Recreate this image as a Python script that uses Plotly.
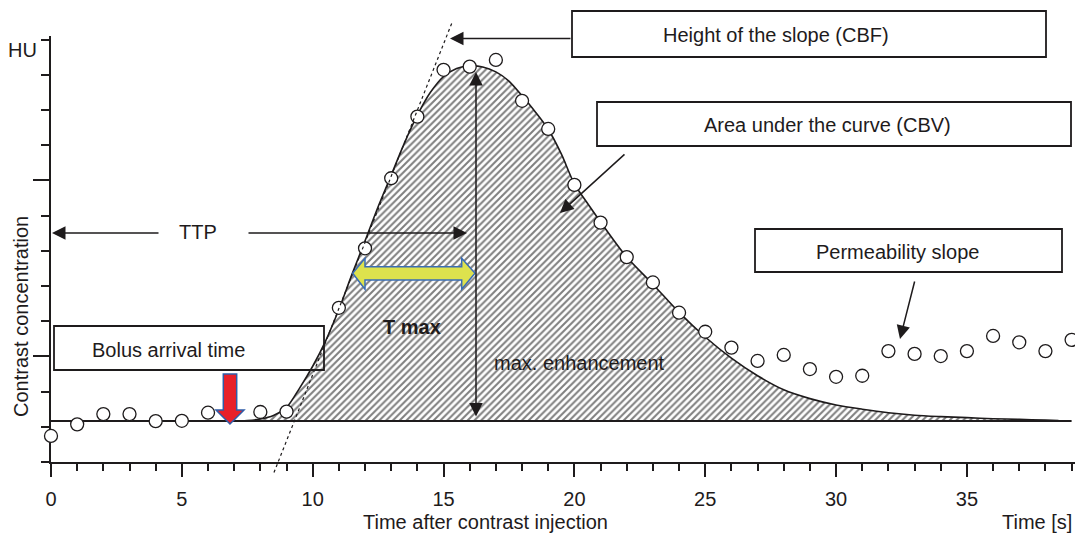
import plotly.graph_objects as go

# ---------------- data ----------------
time_s = [0, 1, 2, 3, 4, 5, 6, 8, 9, 11, 12, 13, 14, 15, 16, 17, 18, 19, 20,
          21, 22, 23, 24, 25, 26, 27, 28, 29, 30, 31, 32, 33, 34, 35, 36, 37, 38, 39]
measured_hu = [0.74, 1.07, 1.36, 1.36, 1.16, 1.17, 1.40, 1.42, 1.43, 4.38, 6.07, 8.06,
               9.81, 11.14, 11.23, 11.42, 10.26, 9.46, 7.87, 6.80, 5.82, 5.10, 4.24,
               3.70, 3.25, 2.87, 3.04, 2.64, 2.42, 2.45, 3.15, 3.07, 3.01, 3.15, 3.58,
               3.40, 3.15, 3.47]

fit_t = [6.8, 7.5, 8, 8.5, 9, 9.5, 10, 10.5, 11, 11.5, 12, 12.5, 13, 13.5, 14, 14.5,
         15, 15.5, 16, 16.5, 17, 17.5, 18, 18.5, 19, 19.5, 20, 20.5, 21, 22, 23, 24,
         25, 26, 27, 28, 29, 30, 31, 32, 33, 34, 35, 36, 37, 38, 38.5]
fit_hu = [1.165, 1.18, 1.22, 1.32, 1.55, 2.1, 2.72, 3.45, 4.33, 5.33, 6.28, 7.25, 8.15,
          9.05, 9.85, 10.5, 10.95, 11.18, 11.25, 11.22, 11.08, 10.82, 10.4, 9.95,
          9.45, 8.75, 7.9, 7.35, 6.82, 5.82, 5.05, 4.25, 3.55, 2.95, 2.45, 2.05, 1.8,
          1.62, 1.5, 1.4, 1.33, 1.29, 1.26, 1.23, 1.21, 1.19, 1.18]

baseline_t = [0, 39]
baseline_hu = [1.165, 1.165]

tangent_t = [8.52, 15.35]
tangent_hu = [-0.3, 12.53]

x_ticks = [0, 5, 10, 15, 20, 25, 30, 35]
x_tick_labels = ["0", "5", "10", "15", "20", "25", "30", "35"]

# ---------------- geometry ----------------
FW, FH = 1075, 534
ML, MR, MT, MB = 51, 0, 36, 72
PW, PH = FW - ML - MR, FH - MT - MB
X0, X1 = 0, 39.13
Y0, Y1 = 0, 12.1

INK = "#1e1b1c"
FONT = "Liberation Sans, Arial, Helvetica, sans-serif"


def fx(px):
    return (px - ML) / PW


def fy(py):
    return (FH - MB - py) / PH


def dx(t):
    return (t - X0) / (X1 - X0)


def dy(v):
    return (v - Y0) / (Y1 - Y0)


fig = go.Figure()

# hatched area under the fitted curve
fig.add_trace(go.Scatter(
    x=fit_t, y=fit_hu, mode="lines", line=dict(color=INK, width=1.6, shape="spline", smoothing=0.8),
    fill="toself", fillcolor="white",
    fillpattern=dict(shape="/", fgcolor="#000000", bgcolor="white", size=4.8, solidity=0.42),
    hoverinfo="skip"))

# baseline
fig.add_trace(go.Scatter(x=baseline_t, y=baseline_hu, mode="lines",
                         line=dict(color=INK, width=2), hoverinfo="skip"))

# measured points
fig.add_trace(go.Scatter(x=time_s, y=measured_hu, mode="markers", cliponaxis=False,
                         marker=dict(size=13, color="white", line=dict(color=INK, width=1.3))))

shapes = []
# dotted tangent (slope) line, not clipped to the plot area
shapes.append(dict(type="line", xref="paper", yref="paper",
                   x0=dx(tangent_t[0]), y0=dy(tangent_hu[0]),
                   x1=dx(tangent_t[1]), y1=dy(tangent_hu[1]),
                   line=dict(color=INK, width=1.2, dash="dot")))

# label boxes (pixel positions)
boxes = [(572, 11, 1046, 57), (597, 102, 1071, 146), (755, 229, 1062, 272), (54, 326, 324, 370)]
for (a, b, c, d) in boxes:
    shapes.append(dict(type="rect", xref="paper", yref="paper",
                       x0=fx(a), x1=fx(c), y0=fy(d), y1=fy(b),
                       line=dict(color=INK, width=1.8), fillcolor="rgba(0,0,0,0)"))


def poly(points):
    return "M " + " L ".join(f"{fx(a):.5f},{fy(b):.5f}" for a, b in points) + " Z"


# red block arrow (bolus arrival)
red = [(223.3, 374), (236.7, 374), (236.7, 410), (244, 410), (230, 424),
       (216, 410), (223.3, 410)]
shapes.append(dict(type="path", xref="paper", yref="paper", path=poly(red),
                   fillcolor="#e8202a", line=dict(color="#2f5ca8", width=1.5)))

# yellow double block arrow (T max)
yel = [(352.7, 273.3), (365, 258.3), (365, 266.7), (461.7, 266.7), (461.7, 258.3),
       (475, 273.3), (461.7, 289.3), (461.7, 280), (365, 280), (365, 289.3)]
shapes.append(dict(type="path", xref="paper", yref="paper", path=poly(yel),
                   fillcolor="#dde24d", line=dict(color="#3a6db5", width=1.5)))

ann = []


def text(cx, cy, s, size=20, bold=False, angle=0, xanchor="center"):
    ann.append(dict(x=fx(cx), y=fy(cy), xref="paper", yref="paper", text=f"<b>{s}</b>" if bold else s,
                    showarrow=False, xanchor=xanchor, yanchor="middle", textangle=angle,
                    font=dict(family=FONT, size=size, color=INK)))


def arrow(hx, hy, tx, ty, both=False):
    ann.append(dict(x=fx(hx), y=fy(hy), xref="paper", yref="paper", ax=tx - hx, ay=ty - hy,
                    axref="pixel", ayref="pixel", text="", showarrow=True, arrowhead=2,
                    arrowsize=1.8, arrowwidth=1.5, arrowcolor=INK, standoff=0, startstandoff=0,
                    arrowside="end+start" if both else "end", startarrowhead=2, startarrowsize=1.8))


text(776, 35, "Height of the slope (CBF)")
text(827, 125, "Area under the curve (CBV)")
text(897, 252, "Permeability slope")
text(168, 350, "Bolus arrival time")
text(198, 232, "TTP")
text(412, 327, "T max", bold=True)
text(579, 363, "max. enhancement")
text(22, 50, "HU")
text(21, 317, "Contrast concentration", angle=-90)
text(485, 522, "Time after contrast injection")
text(1074, 522, "Time [s]", xanchor="right")

arrow(450, 38.5, 572, 38.5)
arrow(560, 213, 626, 153)
arrow(900, 339, 915, 280)
arrow(52, 233, 160, 233)
arrow(467, 233, 247, 233)
arrow(476, 72, 476, 418, both=True)

fig.update_layout(
    width=FW, height=FH, margin=dict(l=ML, r=MR, t=MT, b=MB, pad=0),
    paper_bgcolor="white", plot_bgcolor="white", showlegend=False,
    shapes=shapes, annotations=ann,
    font=dict(family=FONT, size=20, color=INK),
    xaxis=dict(range=[X0, X1], showline=True, linewidth=2, linecolor=INK, showgrid=False,
               zeroline=False, ticks="outside", ticklen=13, tickwidth=2, tickcolor=INK,
               tickmode="array", tickvals=x_ticks, ticktext=x_tick_labels,
               tickfont=dict(family=FONT, size=20, color=INK), ticklabelstandoff=5,
               minor=dict(tick0=0, dtick=1, ticks="outside", ticklen=7, tickwidth=1.5,
                          tickcolor=INK, showgrid=False),
               layer="below traces", fixedrange=True),
    yaxis=dict(range=[Y0, Y1], showline=True, linewidth=2, linecolor=INK, showgrid=False,
               zeroline=False, ticks="outside", ticklen=16, tickwidth=2, tickcolor=INK,
               tick0=3, dtick=5, showticklabels=False,
               minor=dict(tick0=0, dtick=1, ticks="outside", ticklen=8, tickwidth=1.5,
                          tickcolor=INK, showgrid=False),
               layer="below traces", fixedrange=True),
)

fig.write_html("out.html")
